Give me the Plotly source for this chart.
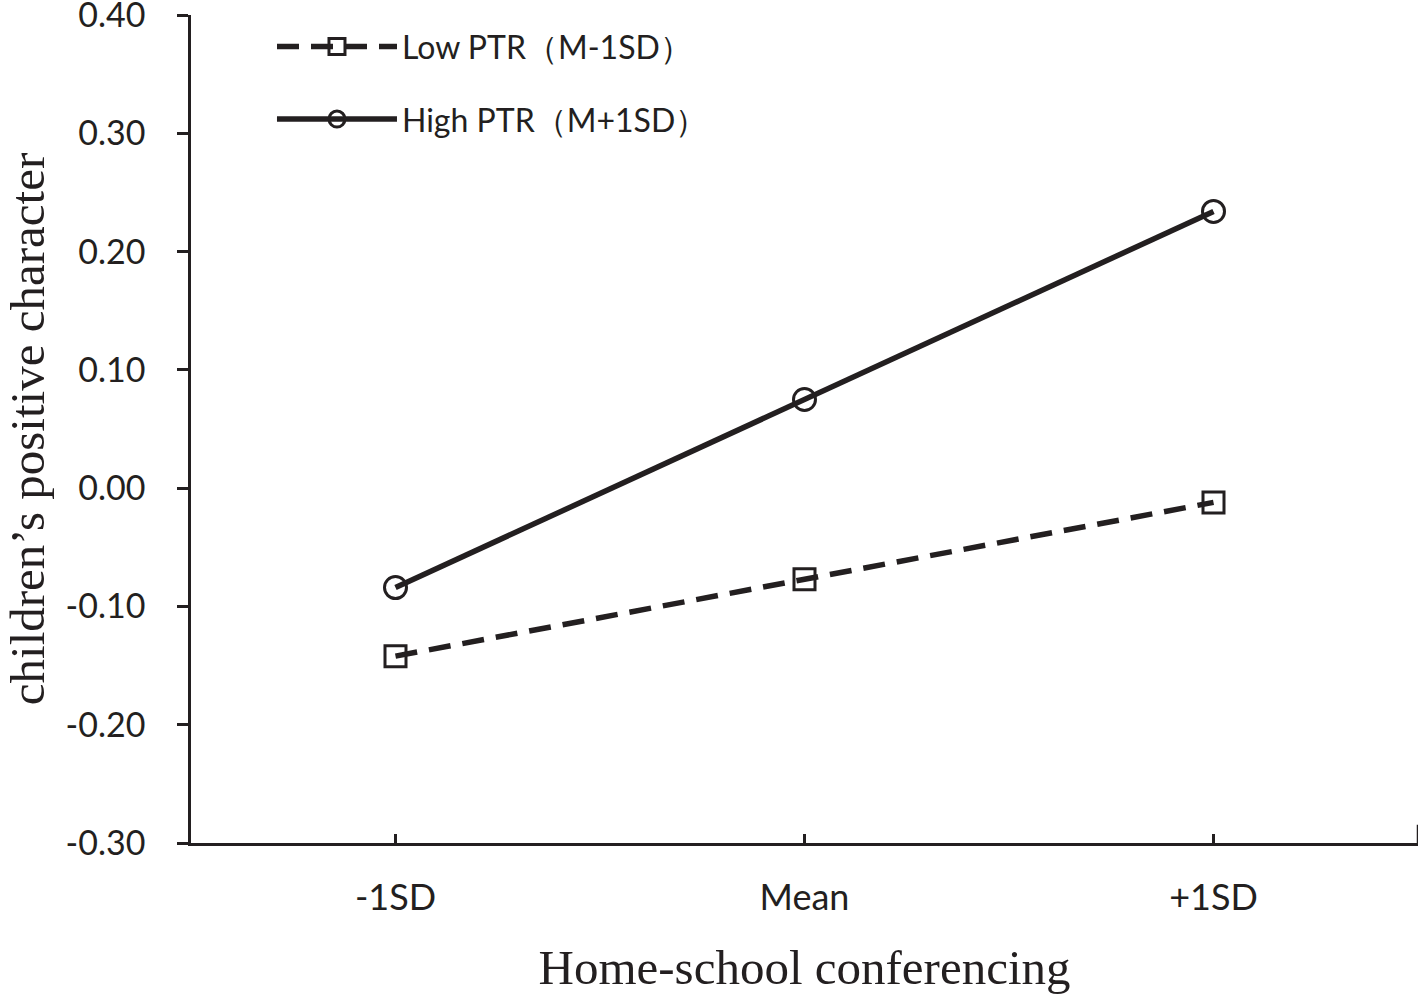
import plotly.graph_objects as go

categories = ["-1SD", "Mean", "+1SD"]
low_ptr = [-0.142, -0.077, -0.012]
high_ptr = [-0.084, 0.075, 0.234]
y_tick_vals = [-0.30, -0.20, -0.10, 0.00, 0.10, 0.20, 0.30, 0.40]
y_tick_text = ["-0.30", "-0.20", "-0.10", "0.00", "0.10", "0.20", "0.30", "0.40"]
series_names = ["Low PTR（M-1SD）", "High PTR（M+1SD）"]

INK = "#231F20"
SANS = "Lato, 'Open Sans', sans-serif"
SERIF = "'Liberation Serif', 'Times New Roman', serif"

fig = go.Figure()
fig.add_trace(go.Scatter(
    x=categories, y=low_ptr, name=series_names[0], mode="lines+markers",
    legendgroup="low",
    line=dict(color=INK, width=5.5, dash="22px,12px"),
    marker=dict(symbol="square-open", size=21, color=INK, line=dict(width=3, color=INK)),
))
fig.add_trace(go.Scatter(
    x=categories, y=high_ptr, name=series_names[1], mode="lines+markers",
    legendgroup="high",
    line=dict(color=INK, width=5.5),
    marker=dict(symbol="circle-open", size=22, color=INK, line=dict(width=3, color=INK)),
))

fig.update_layout(
    width=1421, height=996,
    margin=dict(l=191, r=3, t=15, b=153),
    paper_bgcolor="white", plot_bgcolor="white",
    font=dict(family=SANS, size=35, color=INK),
    showlegend=True,
    legend=dict(
        x=0.066, y=0.995, xanchor="left", yanchor="top",
        font=dict(family=SANS, size=32, color=INK),
        bgcolor="rgba(0,0,0,0)", itemwidth=120, tracegroupgap=28,
        itemsizing="trace",
    ),
    xaxis=dict(
        type="category", range=[-0.5, 2.5], automargin=False,
        showline=True, linecolor=INK, linewidth=2.5,
        ticks="inside", ticklen=9, tickwidth=2.5, tickcolor=INK,
        showgrid=False, zeroline=False,
        ticklabelstandoff=21,
        tickfont=dict(family=SANS, size=36, color=INK),
        title=dict(text="Home-school conferencing", standoff=33,
                   font=dict(family=SERIF, size=49, color=INK)),
    ),
    yaxis=dict(
        range=[-0.3, 0.4001], automargin=False,
        tickmode="array", tickvals=y_tick_vals, ticktext=y_tick_text,
        showline=True, linecolor=INK, linewidth=2.5,
        ticks="outside", ticklen=11, tickwidth=2.5, tickcolor=INK,
        showgrid=False, zeroline=False,
        ticklabelstandoff=25, ticklabeloverflow="allow",
        tickfont=dict(family=SANS, size=34, color=INK),
        title=dict(text="children’s positive character", standoff=28,
                   font=dict(family=SERIF, size=49, color=INK)),
    ),
)

# closing tick at the right end of the category axis
fig.add_shape(type="line", xref="x", yref="y domain", x0=2.5, x1=2.5, y0=0, y1=0.022,
              line=dict(color=INK, width=2.5))

fig.write_html("out.html", config={"displayModeBar": False},
               post_script="document.body.style.margin='0';document.body.style.overflow='hidden';")
